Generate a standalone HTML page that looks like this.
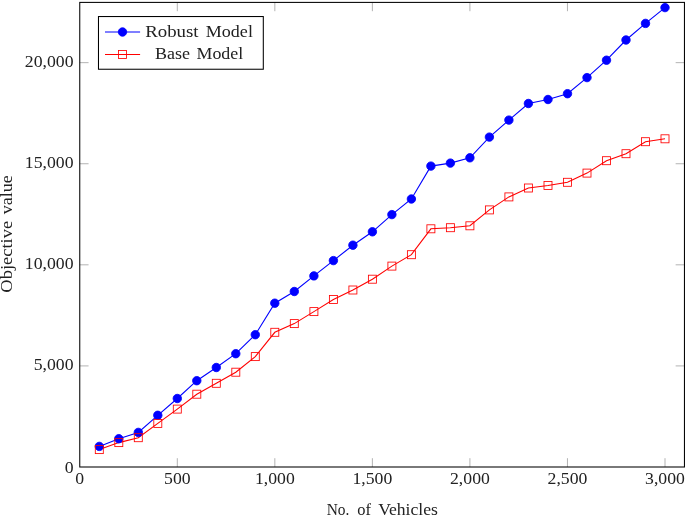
<!DOCTYPE html>
<html><head><meta charset="utf-8"><title>Objective value vs No. of Vehicles</title>
<style>html,body{margin:0;padding:0;background:#fff;}svg{display:block;will-change:transform;}text{font-family:"Liberation Serif",serif;fill:#222;}</style></head><body>
<svg width="685" height="516" viewBox="0 0 685 516">
<rect width="685" height="516" fill="#fff"/>
<g stroke="#808080" stroke-width="0.6" fill="none">
<line x1="177.30" y1="467.0" x2="177.30" y2="458.20"/>
<line x1="177.30" y1="2.4" x2="177.30" y2="11.20"/>
<line x1="274.84" y1="467.0" x2="274.84" y2="458.20"/>
<line x1="274.84" y1="2.4" x2="274.84" y2="11.20"/>
<line x1="372.38" y1="467.0" x2="372.38" y2="458.20"/>
<line x1="372.38" y1="2.4" x2="372.38" y2="11.20"/>
<line x1="469.92" y1="467.0" x2="469.92" y2="458.20"/>
<line x1="469.92" y1="2.4" x2="469.92" y2="11.20"/>
<line x1="567.46" y1="467.0" x2="567.46" y2="458.20"/>
<line x1="567.46" y1="2.4" x2="567.46" y2="11.20"/>
<line x1="665.00" y1="467.0" x2="665.00" y2="458.20"/>
<line x1="665.00" y1="2.4" x2="665.00" y2="11.20"/>
<line x1="79.76" y1="365.91" x2="88.56" y2="365.91"/>
<line x1="684.45" y1="365.91" x2="675.65" y2="365.91"/>
<line x1="79.76" y1="264.82" x2="88.56" y2="264.82"/>
<line x1="684.45" y1="264.82" x2="675.65" y2="264.82"/>
<line x1="79.76" y1="163.74" x2="88.56" y2="163.74"/>
<line x1="684.45" y1="163.74" x2="675.65" y2="163.74"/>
<line x1="79.76" y1="62.65" x2="88.56" y2="62.65"/>
<line x1="684.45" y1="62.65" x2="675.65" y2="62.65"/>
</g>
<rect x="79.76" y="2.4" width="604.69" height="464.60" fill="none" stroke="#000" stroke-width="1.05"/>
<polyline points="99.3,446.4 118.8,438.7 138.3,432.4 157.8,415.3 177.3,398.5 196.8,380.7 216.3,367.5 235.8,353.7 255.3,334.7 274.8,303.2 294.3,291.5 313.9,275.9 333.4,260.6 352.9,245.2 372.4,231.8 391.9,214.6 411.4,199.0 430.9,166.1 450.4,163.1 469.9,157.8 489.4,137.1 508.9,120.1 528.4,103.5 548.0,99.5 567.5,93.7 587.0,77.6 606.5,60.2 626.0,40.0 645.5,23.4 665.0,7.6" fill="none" stroke="#0000ff" stroke-width="1.1"/>
<polyline points="99.3,449.6 118.8,442.6 138.3,437.7 157.8,423.4 177.3,409.1 196.8,394.2 216.3,383.3 235.8,372.2 255.3,356.6 274.8,332.3 294.3,323.6 313.9,311.6 333.4,299.5 352.9,290.0 372.4,279.2 391.9,266.1 411.4,254.7 430.9,228.8 450.4,227.7 469.9,225.8 489.4,209.9 508.9,196.9 528.4,188.0 548.0,185.5 567.5,182.3 587.0,173.1 606.5,160.7 626.0,153.7 645.5,141.7 665.0,138.8" fill="none" stroke="#ff0000" stroke-width="1.1"/>
<g fill="#0000ff" stroke="#0000ff" stroke-width="0.85">
<circle cx="99.3" cy="446.4" r="4.22"/>
<circle cx="118.8" cy="438.7" r="4.22"/>
<circle cx="138.3" cy="432.4" r="4.22"/>
<circle cx="157.8" cy="415.3" r="4.22"/>
<circle cx="177.3" cy="398.5" r="4.22"/>
<circle cx="196.8" cy="380.7" r="4.22"/>
<circle cx="216.3" cy="367.5" r="4.22"/>
<circle cx="235.8" cy="353.7" r="4.22"/>
<circle cx="255.3" cy="334.7" r="4.22"/>
<circle cx="274.8" cy="303.2" r="4.22"/>
<circle cx="294.3" cy="291.5" r="4.22"/>
<circle cx="313.9" cy="275.9" r="4.22"/>
<circle cx="333.4" cy="260.6" r="4.22"/>
<circle cx="352.9" cy="245.2" r="4.22"/>
<circle cx="372.4" cy="231.8" r="4.22"/>
<circle cx="391.9" cy="214.6" r="4.22"/>
<circle cx="411.4" cy="199.0" r="4.22"/>
<circle cx="430.9" cy="166.1" r="4.22"/>
<circle cx="450.4" cy="163.1" r="4.22"/>
<circle cx="469.9" cy="157.8" r="4.22"/>
<circle cx="489.4" cy="137.1" r="4.22"/>
<circle cx="508.9" cy="120.1" r="4.22"/>
<circle cx="528.4" cy="103.5" r="4.22"/>
<circle cx="548.0" cy="99.5" r="4.22"/>
<circle cx="567.5" cy="93.7" r="4.22"/>
<circle cx="587.0" cy="77.6" r="4.22"/>
<circle cx="606.5" cy="60.2" r="4.22"/>
<circle cx="626.0" cy="40.0" r="4.22"/>
<circle cx="645.5" cy="23.4" r="4.22"/>
<circle cx="665.0" cy="7.6" r="4.22"/>
</g>
<g fill="none" stroke="#ff0000" stroke-width="0.85">
<rect x="95.3" y="445.6" width="8.0" height="8.0"/>
<rect x="114.8" y="438.6" width="8.0" height="8.0"/>
<rect x="134.3" y="433.7" width="8.0" height="8.0"/>
<rect x="153.8" y="419.4" width="8.0" height="8.0"/>
<rect x="173.3" y="405.1" width="8.0" height="8.0"/>
<rect x="192.8" y="390.2" width="8.0" height="8.0"/>
<rect x="212.3" y="379.3" width="8.0" height="8.0"/>
<rect x="231.8" y="368.2" width="8.0" height="8.0"/>
<rect x="251.3" y="352.6" width="8.0" height="8.0"/>
<rect x="270.8" y="328.3" width="8.0" height="8.0"/>
<rect x="290.3" y="319.6" width="8.0" height="8.0"/>
<rect x="309.9" y="307.6" width="8.0" height="8.0"/>
<rect x="329.4" y="295.5" width="8.0" height="8.0"/>
<rect x="348.9" y="286.0" width="8.0" height="8.0"/>
<rect x="368.4" y="275.2" width="8.0" height="8.0"/>
<rect x="387.9" y="262.1" width="8.0" height="8.0"/>
<rect x="407.4" y="250.7" width="8.0" height="8.0"/>
<rect x="426.9" y="224.8" width="8.0" height="8.0"/>
<rect x="446.4" y="223.7" width="8.0" height="8.0"/>
<rect x="465.9" y="221.8" width="8.0" height="8.0"/>
<rect x="485.4" y="205.9" width="8.0" height="8.0"/>
<rect x="504.9" y="192.9" width="8.0" height="8.0"/>
<rect x="524.4" y="184.0" width="8.0" height="8.0"/>
<rect x="544.0" y="181.5" width="8.0" height="8.0"/>
<rect x="563.5" y="178.3" width="8.0" height="8.0"/>
<rect x="583.0" y="169.1" width="8.0" height="8.0"/>
<rect x="602.5" y="156.7" width="8.0" height="8.0"/>
<rect x="622.0" y="149.7" width="8.0" height="8.0"/>
<rect x="641.5" y="137.7" width="8.0" height="8.0"/>
<rect x="661.0" y="134.8" width="8.0" height="8.0"/>
</g>
<rect x="98.48" y="16.54" width="164.82" height="52.70" fill="#fff" stroke="#000" stroke-width="1.05"/>
<line x1="105.0" y1="32.0" x2="140.1" y2="32.0" stroke="#0000ff" stroke-width="1.1"/>
<circle cx="122.5" cy="32.0" r="4.22" fill="#0000ff" stroke="#0000ff" stroke-width="0.85"/>
<line x1="105.0" y1="54.5" x2="140.1" y2="54.5" stroke="#ff0000" stroke-width="1.1"/>
<rect x="118.50" y="50.50" width="8.0" height="8.0" fill="none" stroke="#ff0000" stroke-width="0.85"/>
<text y="36.6" font-size="17.7" ><tspan x="145.2" textLength="53.3" lengthAdjust="spacingAndGlyphs">Robust</tspan> <tspan x="205.8" textLength="47.1" lengthAdjust="spacingAndGlyphs">Model</tspan></text>
<text y="58.5" font-size="17.7" ><tspan x="154.9" textLength="35.0" lengthAdjust="spacingAndGlyphs">Base</tspan> <tspan x="196.5" textLength="46.7" lengthAdjust="spacingAndGlyphs">Model</tspan></text>
<text x="79.76" y="484.3" font-size="17.7" text-anchor="middle">0</text>
<text x="177.30" y="484.3" font-size="17.7" text-anchor="middle">500</text>
<text x="274.84" y="484.3" font-size="17.7" text-anchor="middle">1,000</text>
<text x="372.38" y="484.3" font-size="17.7" text-anchor="middle">1,500</text>
<text x="469.92" y="484.3" font-size="17.7" text-anchor="middle">2,000</text>
<text x="567.46" y="484.3" font-size="17.7" text-anchor="middle">2,500</text>
<text x="665.00" y="484.3" font-size="17.7" text-anchor="middle">3,000</text>
<text x="73.5" y="472.60" font-size="17.7" text-anchor="end">0</text>
<text x="73.5" y="370.26" font-size="17.7" text-anchor="end">5,000</text>
<text x="73.5" y="269.18" font-size="17.7" text-anchor="end">10,000</text>
<text x="73.5" y="168.09" font-size="17.7" text-anchor="end">15,000</text>
<text x="73.5" y="67.00" font-size="17.7" text-anchor="end">20,000</text>
<text y="515.1" font-size="17.7" ><tspan x="326.7" textLength="22.7" lengthAdjust="spacingAndGlyphs">No.</tspan> <tspan x="357.2" textLength="13.7" lengthAdjust="spacingAndGlyphs">of</tspan> <tspan x="378.2" textLength="59.7" lengthAdjust="spacingAndGlyphs">Vehicles</tspan></text>
<text y="0" font-size="17.7" transform="translate(12.1,292.7) rotate(-90)"><tspan x="0" textLength="71.9" lengthAdjust="spacingAndGlyphs">Objective</tspan> <tspan x="78.4" textLength="39.0" lengthAdjust="spacingAndGlyphs">value</tspan></text>
</svg></body></html>
